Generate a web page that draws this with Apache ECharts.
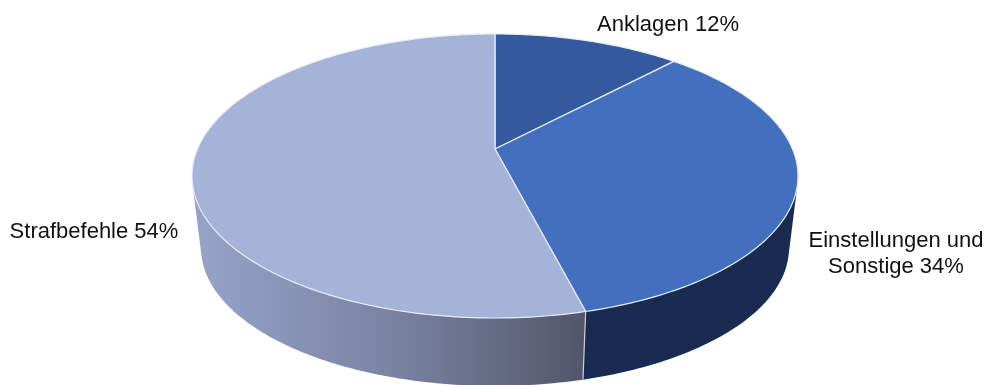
<!DOCTYPE html>
<html><head><meta charset="utf-8">
<style>html,body{margin:0;padding:0;background:#fff}#c{width:984px;height:385px;filter:blur(0.45px)}</style>
<script src="https://cdn.jsdelivr.net/npm/echarts@6/dist/echarts.min.js"></script>
</head><body><div id="c"></div>
<script>
const categories = ['Anklagen', 'Einstellungen und\nSonstige', 'Strafbefehle'];
const shares = [12, 34, 54];
const topColors = ['#34599f', '#4270bf', '#a5b3d8'];

// perspective disc geometry
const CX = 495, CY = 149, A = 297.5, B = 136.9, K = 0.19;
const FLOOR_SCALE = 0.97, FLOOR_CY = 222;
const WALL_FROM = 104, WALL_TO = 256;
const total = shares.reduce((a, b) => a + b, 0);
const labelBoxes = [[668, 38], [896, 280], [94, 245]];

function rim(deg, scale, cy) {
  const t = deg * Math.PI / 180, x = Math.sin(t), y = -Math.cos(t), w = 1 - K * y;
  return [CX + scale * A * x / w, cy + scale * B * y / w];
}
function arc(from, to, scale, cy) {
  const pts = [], n = Math.max(2, Math.ceil(Math.abs(to - from)));
  for (let i = 0; i <= n; i++) pts.push(rim(from + (to - from) * i / n, scale, cy));
  return pts;
}
function wallFill(i) {
  if (i === 1) return '#192b50';
  return new echarts.graphic.LinearGradient(0, 0, 1, 0, [
    { offset: 0, color: '#97a4c8' }, { offset: 0.5, color: '#7a84a3' }, { offset: 1, color: '#52566a' }
  ]);
}
function renderItem(params, api) {
  const i = params.dataIndex;
  let before = 0;
  for (let j = 0; j < i; j++) before += shares[j];
  const a0 = before / total * 360, a1 = (before + api.value(0)) / total * 360;
  const children = [];
  const w0 = Math.max(a0, WALL_FROM), w1 = Math.min(a1, WALL_TO);
  if (w1 > w0) {
    children.push({
      type: 'polygon',
      shape: { points: arc(w0, w1, 1, CY).concat(arc(w1, w0, FLOOR_SCALE, FLOOR_CY)) },
      style: { fill: wallFill(i) }
    });
    if (i === 2) {
      const p = rim(w0, 1, CY), q = rim(w0, FLOOR_SCALE, FLOOR_CY);
      children.push({
        type: 'line',
        shape: { x1: p[0], y1: p[1], x2: q[0], y2: q[1] },
        style: { stroke: '#c9cdd8', lineWidth: 1.2 }
      });
    }
  }
  children.push({
    type: 'polygon',
    shape: { points: [[CX, CY]].concat(arc(a0, a1, 1, CY)) },
    style: { fill: topColors[i], stroke: '#e8edf6', lineWidth: 1.2, lineJoin: 'round' }
  });
  return { type: 'group', children };
}
const chart = echarts.init(document.getElementById('c'), null, { renderer: 'canvas' });
chart.setOption({
  animation: false,
  backgroundColor: '#fff',
  series: [{
    type: 'custom',
    coordinateSystem: 'none',
    renderItem,
    data: shares.map((v, i) => ({ name: categories[i], value: [v] }))
  }],
  graphic: categories.map((name, i) => ({
    type: 'text',
    x: labelBoxes[i][0],
    y: labelBoxes[i][1],
    z: 10,
    style: {
      text: name + ' ' + shares[i] + '%',
      font: '22px "Liberation Sans", Arial, sans-serif',
      fill: '#111',
      align: 'center',
      verticalAlign: 'bottom',
      lineHeight: 26
    }
  }))
});
</script></body></html>
